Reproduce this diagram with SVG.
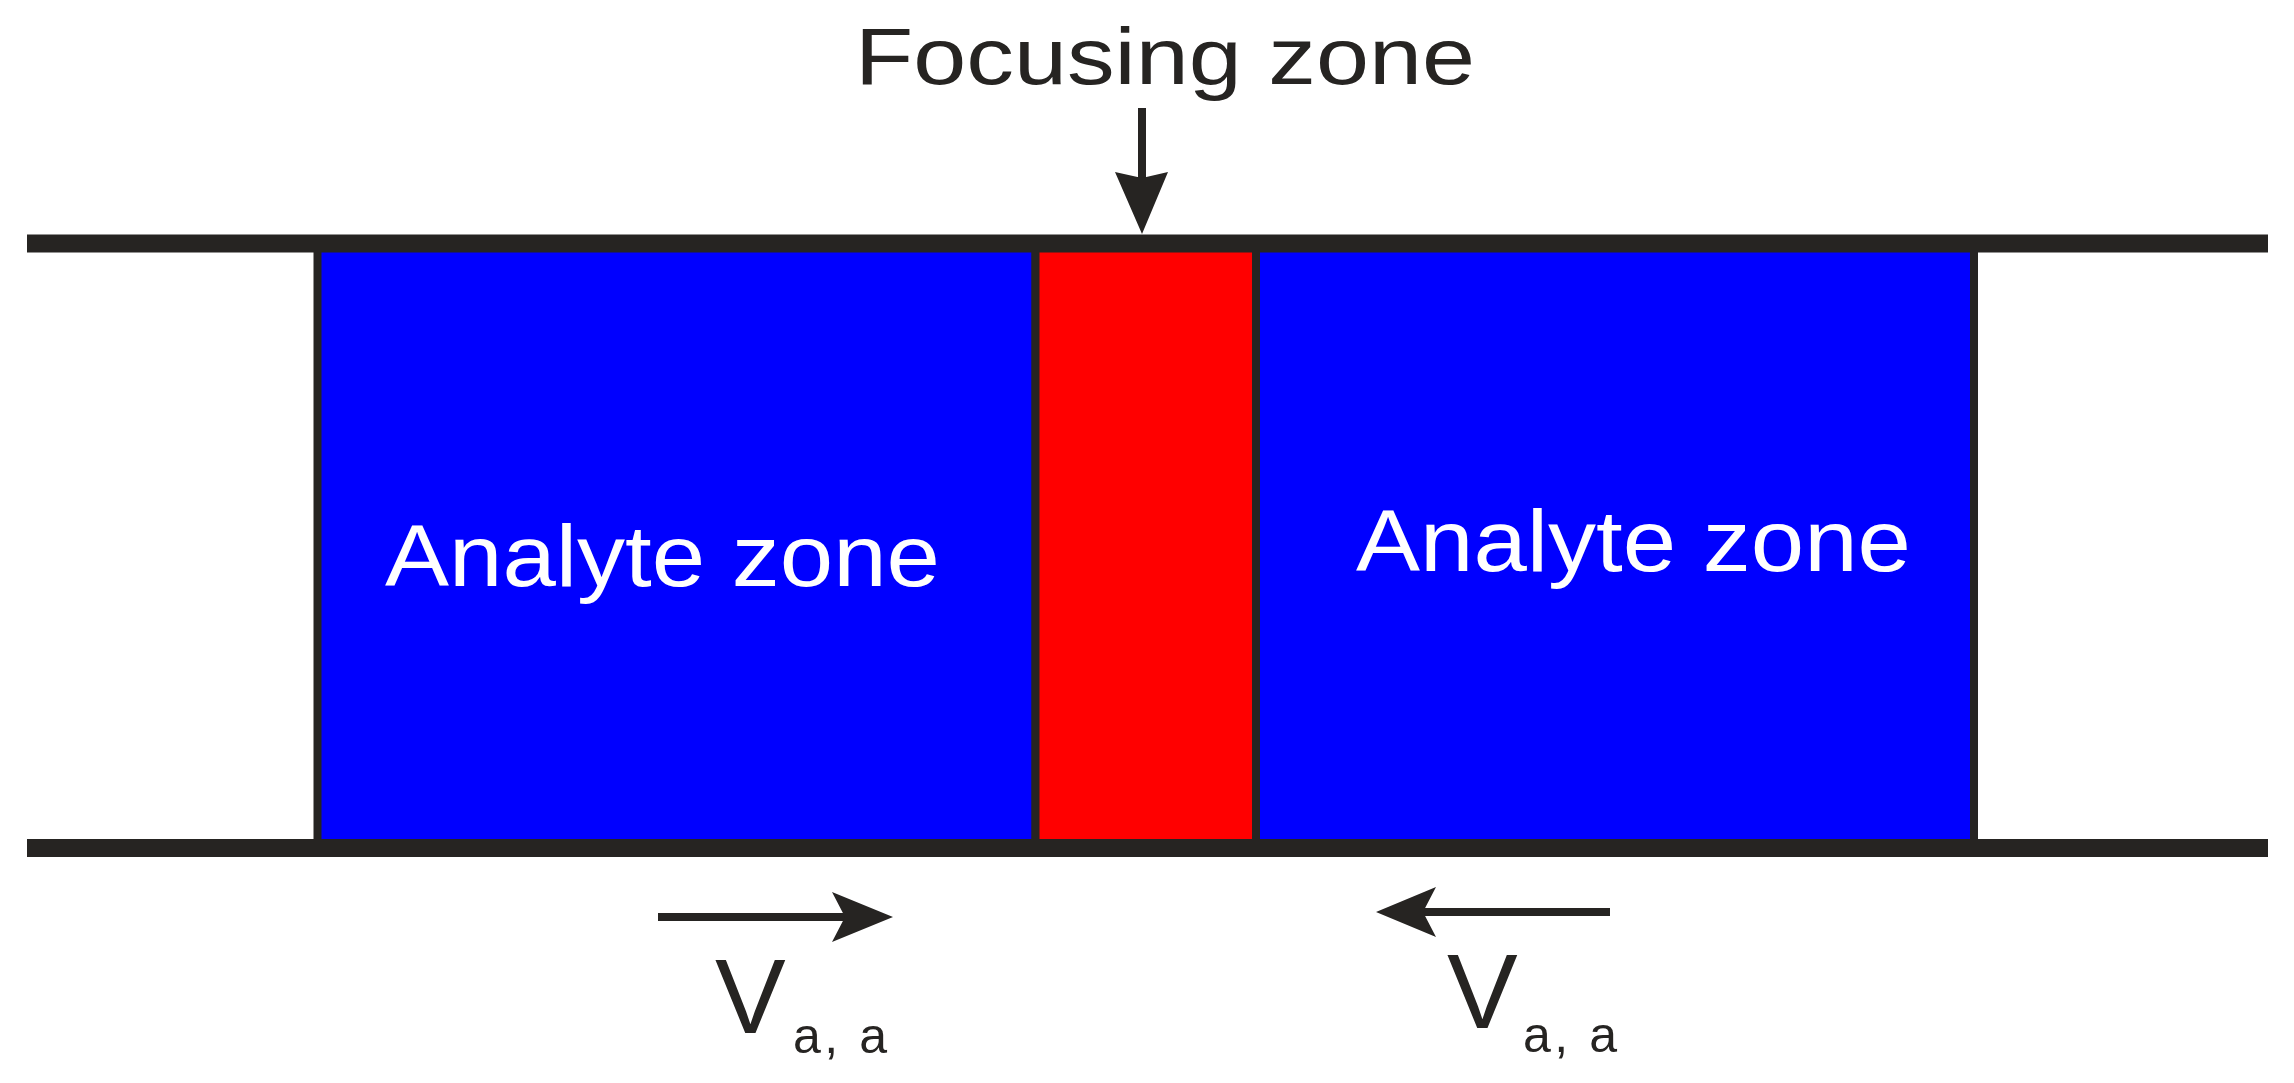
<svg xmlns="http://www.w3.org/2000/svg" width="2294" height="1083" viewBox="0 0 2294 1083">
  <style>
    .zone { stroke: #262422; stroke-width: 8; }
    .wall { stroke: #262422; stroke-width: 18; }
    .shaft { stroke: #262422; stroke-width: 8; fill: none; }
    .head { fill: #262422; }
    .lbl { font-family: "Liberation Sans", Arial, sans-serif; fill: #262422; }
    .wlbl { font-family: "Liberation Sans", Arial, sans-serif; fill: #ffffff; font-size: 88px; }
  </style>
  <rect width="2294" height="1083" fill="#ffffff"/>
  <g id="analyte-left">
    <rect class="zone" x="317.5" y="243" width="718" height="605" fill="#0000ff"/>
    <text class="wlbl" x="385" y="586" textLength="555" lengthAdjust="spacingAndGlyphs">Analyte zone</text>
  </g>
  <g id="focusing-zone">
    <rect class="zone" x="1035.5" y="243" width="220.5" height="605" fill="#ff0000"/>
  </g>
  <g id="analyte-right">
    <rect class="zone" x="1256" y="243" width="718" height="605" fill="#0000ff"/>
    <text class="wlbl" x="1356" y="571" textLength="555" lengthAdjust="spacingAndGlyphs">Analyte zone</text>
  </g>
  <g id="walls">
    <line class="wall" x1="27" y1="243.5" x2="2268" y2="243.5"/>
    <line class="wall" x1="27" y1="848" x2="2268" y2="848"/>
  </g>
  <g id="focusing-label">
    <text class="lbl" x="855" y="84" font-size="80" textLength="620" lengthAdjust="spacingAndGlyphs">Focusing zone</text>
  </g>
  <g id="connectors">
    <line class="shaft" x1="1142" y1="108" x2="1142" y2="182" stroke-width="7"/>
    <polygon class="head" points="1142,234 1115,172 1142,178 1168,172"/>
    <line class="shaft" x1="658" y1="917" x2="846" y2="917"/>
    <polygon class="head" points="893,917 832,892 845,917 832,942"/>
    <line class="shaft" x1="1610" y1="912" x2="1422" y2="912"/>
    <polygon class="head" points="1376,912 1436,887 1423,912 1436,937"/>
  </g>
  <g id="velocity-left">
    <text class="lbl" x="715" y="1033" font-size="106">V</text>
    <text class="lbl" x="793" y="1053" font-size="50" textLength="94" lengthAdjust="spacing">a, a</text>
  </g>
  <g id="velocity-right">
    <text class="lbl" x="1447" y="1028" font-size="106">V</text>
    <text class="lbl" x="1523" y="1052" font-size="50" textLength="94" lengthAdjust="spacing">a, a</text>
  </g>
</svg>
